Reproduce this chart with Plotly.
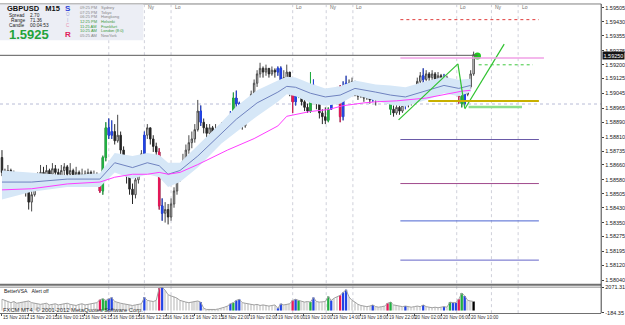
import plotly.graph_objects as go

W, H = 625, 325
FONT = "Liberation Sans, Arial, sans-serif"
BASE = 1.58  # prices below are given in pips above 1.5800

# ---------------- candle data (M15 bars, pips above 1.5800) ----------------
open_pips = [70, 62, 60, 63, 59, 61, 57, 58, 55, 52,
             46, 50, 56, 59, 62, 60, 63, 61, 64, 62,
             60, 63, 65, 61, 63, 60, 62, 59, 61, 60,
             62, 59, 61, 58, 52, 70, 86, 82, 84, 79,
             82, 74, 66, 60, 53, 50, 58, 66, 72, 82,
             86, 80, 76, 73, 44, 40, 42, 38, 45, 52,
             58, 62, 68, 74, 78, 80, 85, 95, 89, 86,
             83, 86, 82, 85, 83, 86, 84, 88, 92, 102,
             99, 92, 87, 93, 99, 104, 110, 115, 118, 116,
             118, 115, 117, 116, 118, 109, 113, 116, 108, 100,
             104, 107, 100, 97, 95, 109, 106, 99, 94, 92,
             90, 96, 100, 104, 107, 92, 108, 110, 108, 111,
             106, 103, 106, 102, 105, 101, 104, 101, 104, 106,
             103, 100, 96, 94, 97, 95, 98, 100, 99, 102,
             105, 111, 114, 112, 115, 113, 115, 112, 114, 111,
             113, 110, 108, 106, 107, 103, 99, 104, 108, 115]
high_pips = [74, 64, 66, 64, 63, 62, 61, 59, 57, 53,
             52, 58, 62, 66, 65, 66, 64, 67, 66, 64,
             66, 67, 66, 67, 64, 65, 63, 64, 63, 64,
             63, 63, 62, 58, 71, 89, 91, 90, 88, 93,
             84, 76, 68, 62, 56, 60, 68, 74, 84, 88,
             86, 82, 78, 75, 48, 46, 45, 48, 54, 60,
             66, 72, 77, 82, 84, 88, 101, 98, 91, 88,
             88, 87, 88, 87, 89, 88, 91, 95, 105, 106,
             100, 93, 95, 101, 106, 112, 117, 121, 119, 120,
             118, 119, 118, 119, 119, 117, 120, 116, 108, 108,
             109, 108, 102, 99, 116, 112, 106, 100, 96, 97,
             97, 103, 106, 108, 109, 111, 114, 112, 113, 111,
             108, 109, 107, 108, 106, 107, 105, 108, 109, 107,
             104, 101, 98, 99, 98, 100, 101, 102, 104, 107,
             113, 116, 118, 117, 116, 117, 116, 116, 115, 115,
             114, 112, 110, 109, 109, 105, 106, 110, 117, 127]
low_pips = [60, 57, 58, 55, 56, 54, 53, 52, 49, 42,
            41, 49, 55, 58, 57, 58, 57, 59, 58, 57,
            58, 60, 58, 59, 57, 58, 56, 57, 57, 58,
            56, 57, 56, 51, 50, 68, 80, 80, 77, 78,
            72, 62, 56, 50, 45, 48, 56, 64, 70, 80,
            77, 73, 70, 42, 36, 35, 34, 36, 43, 50,
            57, 62, 66, 72, 75, 78, 84, 87, 83, 80,
            81, 80, 81, 80, 82, 81, 83, 87, 90, 96,
            88, 85, 86, 91, 98, 103, 108, 113, 113, 114,
            113, 114, 113, 114, 108, 108, 111, 103, 94, 98,
            102, 98, 95, 94, 94, 102, 96, 91, 88, 88,
            89, 96, 99, 101, 89, 90, 106, 105, 107, 103,
            101, 102, 100, 101, 99, 100, 98, 100, 102, 101,
            99, 93, 92, 93, 93, 94, 96, 97, 98, 101,
            104, 110, 110, 111, 110, 111, 110, 111, 109, 110,
            108, 106, 104, 104, 99, 97, 98, 103, 107, 114]
close_pips = [62, 60, 63, 59, 61, 57, 58, 55, 52, 46,
              50, 56, 59, 62, 60, 63, 61, 64, 62, 60,
              63, 65, 61, 63, 60, 62, 59, 61, 60, 62,
              59, 61, 58, 52, 70, 86, 82, 84, 79, 82,
              74, 66, 60, 53, 50, 58, 66, 72, 82, 86,
              80, 76, 73, 44, 40, 42, 38, 45, 52, 58,
              62, 68, 74, 78, 80, 85, 95, 89, 86, 83,
              86, 82, 85, 83, 86, 84, 88, 92, 102, 99,
              92, 87, 93, 99, 104, 110, 115, 118, 116, 118,
              115, 117, 116, 118, 109, 113, 116, 108, 100, 104,
              107, 100, 97, 95, 109, 106, 99, 94, 92, 90,
              96, 100, 104, 107, 92, 108, 110, 108, 111, 106,
              103, 106, 102, 105, 101, 104, 101, 104, 106, 103,
              100, 96, 94, 97, 95, 98, 100, 99, 102, 105,
              111, 114, 112, 115, 113, 115, 112, 114, 111, 113,
              110, 108, 106, 107, 103, 99, 104, 108, 115, 125.5]

# BetterVSA volume histogram
volume = [1000, 900, 750, 700, 800, 650, 700, 750, 800, 850,
          700, 650, 600, 550, 600, 650, 500, 550, 600, 500,
          550, 600, 650, 550, 500, 450, 550, 600, 500, 550,
          600, 650, 700, 950, 1050, 900, 1050, 1150, 800, 700,
          650, 600, 550, 500, 450, 500, 550, 600, 1170, 900,
          850, 800, 900, 2000, 2071, 1800, 1400, 1300, 1250, 1100,
          900, 800, 750, 700, 750, 800, 850, 750, 200, 100,
          80, 60, 100, 150, 200, 300, 400, 600, 700, 900,
          1000, 700, 650, 600, 550, 500, 550, 450, 500, 450,
          400, 450, 500, 200, 600, 500, 550, 600, 900, 1000,
          900, 800, 750, 800, 750, 1150, 800, 750, 750, 800,
          1250, 900, 1100, 1200, 1350, 1600, 1850, 1200, 900, 750,
          550, 450, 400, 350, 400, 500, 350, 300, 350, 400,
          650, 750, 500, 450, 400, 350, 400, 350, 300, 350,
          400, 350, 500, 350, 300, 250, 300, 250, 300, 350,
          300, 750, 700, 700, 1000, 1550, 1300, 900, 850, 800]

red_bars = [33, 53, 98, 114, 130, 154]
green_bars = [34, 35, 78, 100, 104, 110, 131, 151, 155]
blue_bars = [36, 37, 48, 54, 67, 77, 79, 80, 93, 94, 99, 105, 111, 115, 116,
             125, 136, 142, 149, 152, 153, 156]
last_bar = [159]

# moving averages (sampled at bar indices, pips)
ma_fast_bar = [0, 10, 22, 33, 38, 44, 49, 53, 56, 60, 66, 74, 79, 86, 93, 96,
               99, 104, 109, 114, 119, 126, 131, 136, 144, 149, 154, 158]
ma_fast_pips = [56.8, 56.8, 58.4, 58.4, 67.2, 64.6, 67.2, 65.6, 61.0, 63.0, 70.8,
                82.8, 90.6, 99.4, 105.2, 108.3, 107.8, 104.6, 102.6, 103.6, 107.2,
                105.2, 103.6, 102.6, 106.2, 108.8, 107.2, 108.8]
band_upper_pips = [63.0, 62.0, 60.4, 61.5, 72.4, 70.8, 72.4, 71.4, 67.2, 67.2, 76.6,
                   89.0, 97.4, 106.2, 111.4, 113.5, 113.0, 109.8, 107.2, 108.3, 111.4,
                   109.3, 108.8, 107.8, 111.4, 113.5, 111.9, 112.4]
band_lower_pips = [47.4, 51.6, 54.2, 54.2, 62.0, 58.4, 61.0, 59.4, 54.2, 56.8, 64.6,
                   77.6, 83.8, 92.2, 100.0, 104.1, 103.0, 99.4, 97.9, 98.9, 103.6,
                   100.5, 98.4, 97.4, 101.5, 104.6, 103.0, 105.2]
ma_slow_bar = [0, 10, 22, 33, 38, 44, 49, 53, 56, 60, 66, 76, 85, 93, 96, 104,
               110, 115, 122, 126, 133, 143, 155, 158]
ma_slow_pips = [52.6, 53.2, 55.8, 56.8, 59.4, 61.0, 61.0, 62.0, 61.0, 62.0, 66.2,
                74.0, 80.2, 87.0, 92.2, 94.8, 95.8, 97.9, 99.4, 100.0, 100.5,
                102.0, 105.7, 106.2]

# axes labels
price_ticks = [1.59505, 1.59430, 1.59355, 1.59275, 1.59200, 1.59125, 1.59045,
               1.58965, 1.58890, 1.58810, 1.58735, 1.58660, 1.58580, 1.58505,
               1.58430, 1.58350, 1.58275, 1.58195, 1.58120, 1.58040]
price_tick_text = ["%.5f" % p for p in price_ticks]
bid_price = 1.5925
time_tick_bar = [0, 9, 18.3, 27.7, 37, 46.3, 55.3, 65, 74, 83.3, 92.7, 101.7,
                 111.3, 120.7, 130, 139, 148.3, 157.7]
time_tick_text = ["15 Nov 2012", "15 Nov 20:15", "16 Nov 00:15", "16 Nov 04:15",
                  "16 Nov 08:15", "16 Nov 12:15", "16 Nov 16:15", "16 Nov 20:15",
                  "18 Nov 22:00", "19 Nov 02:00", "19 Nov 06:00", "19 Nov 10:00",
                  "19 Nov 14:00", "19 Nov 18:00", "19 Nov 22:00", "20 Nov 02:00",
                  "20 Nov 06:00", "20 Nov 10:00"]
# first separator's label is hidden behind the info panel in the reference
session_bar = [36, 48, 57, 98, 109.3, 118.3, 153.3, 165, 174]
session_text = ["", "Ny", "Lo", "Lo", "Ny", "Lo", "Lo", "Ny", "Lo"]

# horizontal level objects
level_price = [1.59442, 1.59236, 1.59199, 1.59004, 1.58972, 1.58797, 1.58560, 1.58359, 1.58148]
level_x0 = [134.3, 134.3, 160.7, 143.7, 157.3, 134.3, 134.3, 134.3, 134.3]
level_x1 = [181, 182.7, 179, 181, 175.3, 181, 181, 181, 181]
level_color = ['#e03c3c', '#f0a0e6', '#3cc83c', '#c8b000', '#8ce08c',
               '#6a5aa8', '#a04a8c', '#4a64d2', '#6464c8']
level_dash = ['dot', 'solid', 'dot', 'solid', 'solid', 'solid', 'solid', 'solid', 'solid']
level_width = [1, 1.5, 1, 2, 2.5, 1, 1, 1, 1]
prev_close_price = 1.58988

# trend lines
trend_x0 = [133.7, 153.7, 156.0]
trend_y0 = [1.58903, 1.59204, 1.58961]
trend_x1 = [153.7, 156.0, 169.3]
trend_y1 = [1.59204, 1.58966, 1.59310]
dot_bar, dot_price = 160.3, 1.59246

assert len(open_pips) == len(high_pips) == len(low_pips) == len(close_pips) == len(volume)

# ---------------- build ----------------
to_p = lambda arr: [BASE + v / 1e4 for v in arr]
bars = list(range(len(close_pips)))
O, Hh, L, C = to_p(open_pips), to_p(high_pips), to_p(low_pips), to_p(close_pips)

XD = [0, 608 / W]
MAIN_D = [1 - 286 / H, 1 - 2 / H]
VOL_D = [1 - 315.5 / H, 1 - 289.5 / H]
XR = [-0.667, 202]

fig = go.Figure()

# band
fig.add_trace(go.Scatter(x=ma_fast_bar, y=to_p(band_upper_pips), mode='lines',
                         line=dict(width=0, color='#d6e7f7'), hoverinfo='skip'))
fig.add_trace(go.Scatter(x=ma_fast_bar, y=to_p(band_lower_pips), mode='lines',
                         line=dict(width=0, color='#d6e7f7'), fill='tonexty',
                         fillcolor='#d6e7f7', hoverinfo='skip'))

fig.add_trace(go.Candlestick(x=bars, open=O, high=Hh, low=L, close=C,
                             increasing=dict(line=dict(color='#4a4a4a', width=1), fillcolor='#ffffff'),
                             decreasing=dict(line=dict(color='#262626', width=1), fillcolor='#262626'),
                             whiskerwidth=0, hoverinfo='skip'))

fig.add_trace(go.Scatter(x=ma_fast_bar, y=to_p(ma_fast_pips), mode='lines',
                         line=dict(width=1, color='#6f82bf'), hoverinfo='skip'))
fig.add_trace(go.Scatter(x=ma_slow_bar, y=to_p(ma_slow_pips), mode='lines',
                         line=dict(width=1, color='#ff3cff'), hoverinfo='skip'))

sig_colors = [(red_bars, '#e8185a'), (green_bars, '#1fb040'), (blue_bars, '#2244e6')]
for idxs, col in sig_colors:
    fig.add_trace(go.Candlestick(x=idxs, open=[O[i] for i in idxs], high=[Hh[i] for i in idxs],
                                 low=[L[i] for i in idxs], close=[C[i] for i in idxs],
                                 increasing=dict(line=dict(color=col, width=1), fillcolor=col),
                                 decreasing=dict(line=dict(color=col, width=1), fillcolor=col),
                                 whiskerwidth=0, hoverinfo='skip'))

# volume pane
fig.add_trace(go.Bar(x=bars, y=volume, width=0.55, marker=dict(color='#d9d9d9', line=dict(width=0)),
                     xaxis='x2', yaxis='y2', hoverinfo='skip'))
fig.add_trace(go.Scatter(x=bars, y=volume, mode='lines', line=dict(width=1, color='#a0a0a0'),
                         xaxis='x2', yaxis='y2', hoverinfo='skip'))
for idxs, col in sig_colors + [(last_bar, '#000000')]:
    fig.add_trace(go.Bar(x=idxs, y=[volume[i] for i in idxs], width=0.75,
                         marker=dict(color=col, line=dict(width=0)),
                         xaxis='x2', yaxis='y2', hoverinfo='skip'))

# trend lines and dot
for x0, y0, x1, y1 in zip(trend_x0, trend_y0, trend_x1, trend_y1):
    fig.add_trace(go.Scatter(x=[x0, x1], y=[y0, y1], mode='lines',
                             line=dict(width=1.2, color='#2fc22f'), hoverinfo='skip'))
fig.add_trace(go.Scatter(x=[dot_bar], y=[dot_price], mode='markers',
                         marker=dict(size=7, color='#1ec81e'), hoverinfo='skip'))

shapes = []
# session separators
for sb in session_bar:
    shapes.append(dict(type='line', xref='x', yref='paper', x0=sb, x1=sb,
                       y0=1 - 316 / H, y1=1 - 2 / H,
                       line=dict(color='#cfd0da', width=1, dash='dot'), layer='below'))
# previous close dotted line
shapes.append(dict(type='line', xref='x', yref='y', x0=XR[0], x1=XR[1],
                   y0=prev_close_price, y1=prev_close_price,
                   line=dict(color='#b8bcd6', width=1, dash='dot'), layer='below'))
# bid line
shapes.append(dict(type='line', xref='x', yref='y', x0=XR[0], x1=dot_bar,
                   y0=bid_price, y1=bid_price, line=dict(color='#5a5a5a', width=1)))
for p, a, b, c, d, w in zip(level_price, level_x0, level_x1, level_color, level_dash, level_width):
    shapes.append(dict(type='line', xref='x', yref='y', x0=a, x1=b, y0=p, y1=p,
                       line=dict(color=c, width=w, dash=d)))
# frame
px = lambda v: v / W
py = lambda v: 1 - v / H
shapes += [
    dict(type='line', xref='paper', yref='paper', x0=0, x1=px(608), y0=py(1), y1=py(1),
         line=dict(color='#808080', width=1)),
    dict(type='line', xref='paper', yref='paper', x0=0, x1=px(608), y0=py(287), y1=py(287),
         line=dict(color='#707070', width=2)),
    dict(type='line', xref='paper', yref='paper', x0=0, x1=px(608), y0=py(289.5), y1=py(289.5),
         line=dict(color='#909090', width=1)),
    dict(type='line', xref='paper', yref='paper', x0=px(608), x1=px(608), y0=py(316), y1=py(1),
         line=dict(color='#404040', width=1)),
    # info panel
    dict(type='rect', xref='paper', yref='paper', x0=0, x1=px(145), y0=py(38), y1=py(1.5),
         fillcolor='#eceef5', line=dict(width=0)),
]

ann = []
def pa(x, y, text, size, color, xanchor='left', bold=False, bg=None, family=FONT):
    ann.append(dict(x=px(x), y=py(y), xref='paper', yref='paper',
                    text=('<b>%s</b>' % text) if bold else text, showarrow=False,
                    xanchor=xanchor, yanchor='middle', borderpad=0,
                    font=dict(size=size, color=color, family=family), bgcolor=bg))

pa(6, 6, "GBPUSD&nbsp;&nbsp;&nbsp;M15", 7.5, '#111111', bold=True)
for yy, lab, val in [(13, "Spread", "2.70"), (18, "Range", "71.36"), (23, "Candle", "00:04:53")]:
    pa(26, yy, lab, 4.8, '#222222', xanchor='right')
    pa(29, yy, val, 4.8, '#222222')
pa(8, 32.5, "1.5925", 13, '#23a33a', bold=True)
pa(65, 5.5, "S", 8, '#2b3fd6', bold=True)
pa(66, 12, "O", 4.5, '#a8acd8')
pa(66.5, 17.5, "I", 4.5, '#a8acd8')
pa(66, 23, "C", 4.5, '#e890b0')
pa(65, 32.5, "R", 8, '#e0205a', bold=True)
clock_rows = [("09:25 PM", "Sydney"), ("07:25 PM", "Tokyo"), ("06:25 PM", "Hongkong"),
              ("12:25 PM", "Helsinki"), ("11:25 AM", "Frankfurt"), ("10:25 AM", "London (8:0)"),
              ("05:25 AM", "NewYork")]
for k, (t, c) in enumerate(clock_rows):
    col = '#3a9a3a' if 3 <= k <= 5 else '#858585'
    yy = 4.5 + k * 4.8
    pa(80, yy, t, 4, col)
    pa(101, yy, c, 4, col)

pa(3, 293, "BetterVSA&nbsp;&nbsp;&nbsp;Alert off", 5, '#202020')
pa(2, 312.5, "FXCM MT4, © 2001-2012 MetaQuotes Software Corp.", 5.8, '#303030')

for sb, st in zip(session_bar, session_text):
    if not st:
        continue
    ann.append(dict(x=sb + 0.5, y=py(4.5), xref='x', yref='paper', text=st, showarrow=False,
                    xanchor='left', yanchor='middle', font=dict(size=5, color='#707070', family=FONT)))
for tb, tt in zip(time_tick_bar, time_tick_text):
    ann.append(dict(x=tb, y=py(320.5), xref='x', yref='paper', text=tt, showarrow=False,
                    xanchor='left', yanchor='middle', borderpad=0,
                    font=dict(size=4.6, color='#303030', family=FONT)))
# current price marker on axis
ann.append(dict(x=px(608.5), y=bid_price, xref='paper', yref='y', text="1.59250", showarrow=False,
                xanchor='left', yanchor='middle', bgcolor='#141414', borderpad=0.5,
                font=dict(size=5.5, color='#ffffff', family=FONT)))

fig.update_layout(
    width=W, height=H, margin=dict(l=0, r=0, t=0, b=0),
    paper_bgcolor='white', plot_bgcolor='white', showlegend=False,
    barmode='overlay', shapes=shapes, annotations=ann,
    xaxis=dict(domain=XD, range=XR, showgrid=False, zeroline=False, showticklabels=False,
               rangeslider=dict(visible=False), anchor='y', fixedrange=True),
    xaxis2=dict(domain=XD, range=XR, showgrid=False, zeroline=False, showticklabels=False,
                anchor='y2', ticks='outside', ticklen=2, tickcolor='#505050',
                tickvals=time_tick_bar, showline=True, linecolor='#707070'),
    yaxis=dict(domain=MAIN_D, range=[1.58021, 1.59521], side='right', anchor='x',
               tickvals=price_ticks, ticktext=price_tick_text, ticks='outside', ticklen=2,
               tickcolor='#404040', showgrid=False, zeroline=False,
               tickfont=dict(size=5.5, color='#222222', family=FONT)),
    yaxis2=dict(domain=VOL_D, range=[-184.35, 2071.31], side='right', anchor='x2',
                tickvals=[2071.31, -184.35], ticktext=['2071.31', '-184.35'], ticks='outside',
                ticklen=2, tickcolor='#404040', showgrid=False, zeroline=False,
                tickfont=dict(size=5.5, color='#222222', family=FONT)),
)

fig.write_html("out.html")
